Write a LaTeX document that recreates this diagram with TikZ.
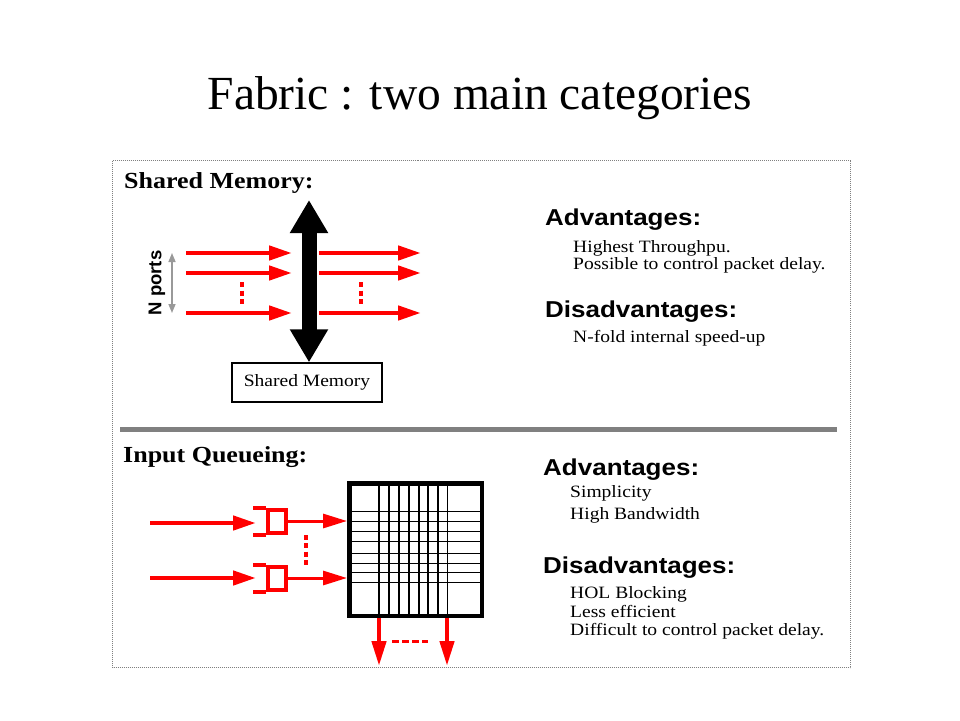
\documentclass[tikz,border=0pt]{standalone}
\usepackage{fontspec}
\usepackage{graphicx}
\setmainfont{Liberation Serif}
\newfontfamily\arialfont{Liberation Sans}
\usetikzlibrary{arrows.meta}
\newcommand{\wide}[1]{\scalebox{1.13}[1]{#1}}
\tikzset{>=Triangle,
  redarrow/.style={draw=red, line width=4.5pt, -{Triangle[length=23pt,width=14pt]}},
  thinarrow/.style={draw=red, line width=3pt, -{Triangle[length=24pt,width=14pt]}},
  reddots/.style={draw=red, line width=4pt, dash pattern=on 5pt off 3.5pt},
  heading/.style={anchor=base west, inner sep=0pt, font=\bfseries\fontsize{23}{26}\selectfont},
  proscons/.style={anchor=base west, inner sep=0pt, font=\arialfont\bfseries\fontsize{23}{26}\selectfont},
  item/.style={anchor=base west, inner sep=0pt, font=\fontsize{17.3}{20}\selectfont},
  queue/.style={draw=red, line width=4pt, minimum width=18pt, minimum height=23pt, inner sep=0pt}}

\begin{document}
\begin{tikzpicture}[x=1pt,y=-1pt]
    \useasboundingbox (0,0) rectangle (960,720);
    \node[anchor=base, inner sep=0pt, font=\fontsize{47.5}{52}\selectfont] (title) at (480,109) {Fabric : two main categories};
    \draw[gray, line width=1pt, dash pattern=on 1pt off 1pt] (112.5,160.5) rectangle (850.5,667.5);
    \draw[gray, line width=5pt] (120,429.5) -- (837,429.5);

    % shared memory
    \node[heading] (smtitle) at (124,188) {\wide{Shared Memory:}};
    \node[draw, line width=1.3pt, minimum width=150pt, minimum height=39pt, inner sep=0pt,
          font=\fontsize{17.3}{20}\selectfont] (smem) at (307,382.5) {\wide{Shared Memory}};
    \coordinate (bustop) at (309,200);
    \draw[line width=15pt, {Triangle[length=33pt,width=36pt]}-{Triangle[length=33pt,width=36pt]}] (bustop) -- (bustop |- smem.north);
    \foreach \y in {253,273,313} {
        \draw[redarrow] (186,\y) -- (292,\y);
        \draw[redarrow] (319,\y) -- (421,\y);
    }
    \draw[reddots] (242,282) -- (242,306);
    \draw[reddots] (361,282) -- (361,306);
    \node[rotate=90, inner sep=0pt, font=\arialfont\bfseries\fontsize{18.5}{20}\selectfont] (nports) at (157,283) {N ports};
    \draw[gray!80, line width=1.5pt, {Triangle[length=9pt,width=7pt]}-{Triangle[length=9pt,width=7pt]}] (172,253) -- (172,313);

    \node[proscons] (smadv) at (545,225) {\wide{Advantages:}};
    \node[item] (smadv1) at (573,252) {\wide{Highest Throughpu.}};
    \node[item] (smadv2) at (573,269) {\wide{Possible to control packet delay.}};
    \node[proscons] (smdis) at (545,317) {\wide{Disadvantages:}};
    \node[item] (smdis1) at (573,342) {\wide{N-fold internal speed-up}};

    % input queueing
    \node[heading] (iqtitle) at (123,462) {\wide{Input Queueing:}};
    \foreach \x in {379,389,399,409,419,428,438,447.3}
        \draw[line width=1.5pt] (\x,481) -- (\x,618);
    \foreach \y in {511.7,521.7,531.7,541.7,553.3,563.3,572.3,582.3}
        \draw[line width=1.5pt] (347,\y) -- (484,\y);
    \node[draw, line width=4.5pt, minimum size=132.5pt, inner sep=0pt] (xbar) at (415.5,549.5) {};

    \node[queue] (q1) at (277,521) {};
    \node[queue] (q2) at (277,578) {};
    \foreach \q/\y in {q1/523, q2/578} {
        \draw[red, line width=4pt] (\q.north west) -- ++(-13,0);
        \draw[red, line width=4pt] (\q.south west) -- ++(-13,0);
        \draw[redarrow] (150,\y) -- ([xshift=-10pt]\q.west |- 0,\y);
        \draw[thinarrow] (\q.east) -- (\q.east -| xbar.west);
    }
    \draw[reddots, dash pattern=on 5pt off 3.3pt] (306,535) -- (306,565);
    \foreach \x in {379,447}
        \draw[redarrow, -{Triangle[length=25pt,width=14pt]}] (\x,0 |- xbar.south) -- (\x,666);
    \draw[red, line width=3pt, dash pattern=on 6.7pt off 3.3pt] (392,641) -- (428,641);

    \node[proscons] (iqadv) at (543,475) {\wide{Advantages:}};
    \node[item] (iqadv1) at (570,497) {\wide{Simplicity}};
    \node[item] (iqadv2) at (570,519) {\wide{High Bandwidth}};
    \node[proscons] (iqdis) at (543,573) {\wide{Disadvantages:}};
    \node[item] (iqdis1) at (570,598) {\wide{HOL Blocking}};
    \node[item] (iqdis2) at (570,617) {\wide{Less efficient}};
    \node[item] (iqdis3) at (570,635) {\wide{Difficult to control packet delay.}};
\end{tikzpicture}
\end{document}
